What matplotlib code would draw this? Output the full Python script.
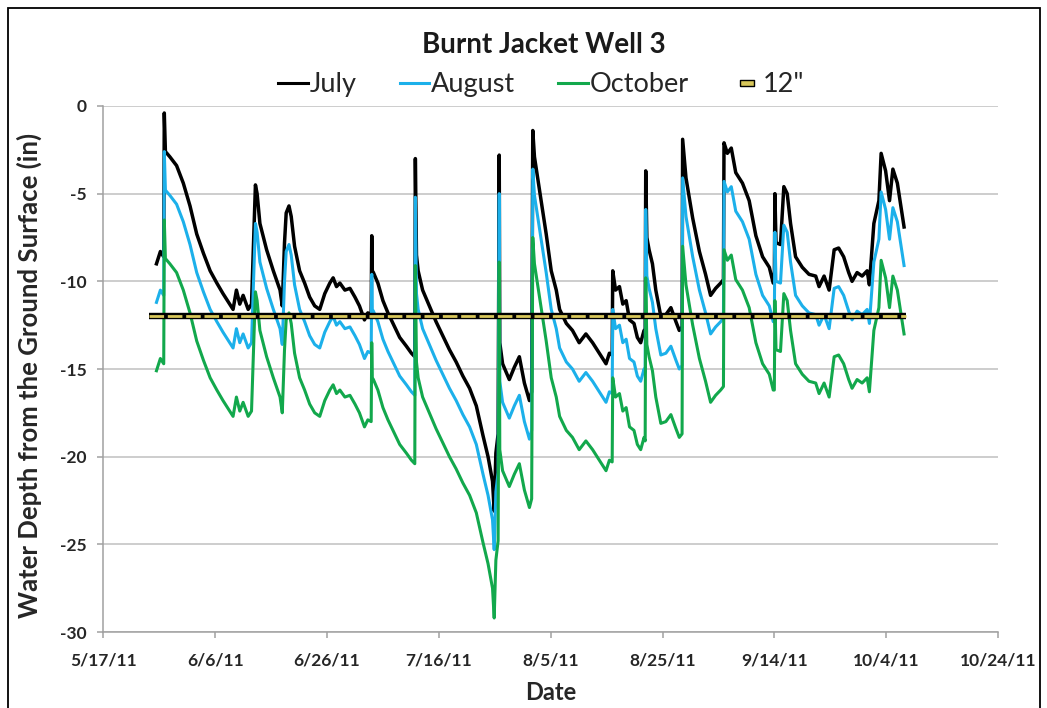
import matplotlib
matplotlib.use("Agg")
import matplotlib.pyplot as plt
from matplotlib.lines import Line2D
from matplotlib.patches import Rectangle

# --- Data (days since 5/17/11, depth in inches) ---
days = [9.5, 10.2, 10.8, 10.9, 11.1, 11.9, 13.1, 14.3, 15.5, 16.7, 17.9, 19.1, 20.3, 21.4, 22.6, 23.2,
        23.8, 24.4, 25.0, 25.9, 26.5, 26.9, 27.2, 27.5, 28.0, 29.2, 30.4, 31.6, 32.0, 32.4, 32.7, 33.2,
        33.6, 34.2, 35.1, 36.0, 36.9, 37.8, 38.7, 39.6, 40.5, 41.1, 41.7, 42.3, 43.2, 44.1, 45.0, 45.8,
        46.7, 47.3, 47.9, 48.0, 48.1, 48.3, 49.1, 50.0, 50.9, 51.8, 53.0, 54.2, 55.1, 55.7, 55.8, 56.0,
        56.3, 57.1, 58.3, 59.5, 60.7, 61.9, 63.1, 64.3, 65.5, 66.7, 67.9, 68.8, 69.6, 69.9, 70.2, 70.6,
        70.8, 70.9, 71.4, 72.6, 73.5, 74.4, 75.3, 76.2, 76.6, 76.8, 77.1, 78.0, 79.2, 80.1, 81.0, 81.6,
        82.8, 83.9, 85.1, 86.3, 87.5, 88.7, 89.9, 90.5, 91.0, 91.1, 91.6, 92.3, 92.9, 93.5, 94.1, 94.9,
        95.5, 96.1, 96.7, 96.9, 97.0, 97.2, 97.6, 98.2, 98.8, 99.7, 100.6, 101.5, 102.4, 103.0, 103.5,
        103.6, 104.2, 105.4, 106.6, 107.7, 108.6, 109.5, 110.4, 110.9, 111.0, 111.6, 112.3, 113.1, 114.3,
        115.5, 116.7, 117.9, 119.1, 119.8, 120.0, 120.1, 120.3, 121.1, 121.7, 122.3, 122.9, 123.8, 125.0,
        126.2, 127.4, 128.0, 128.9, 129.8, 130.7, 131.5, 132.4, 133.3, 133.9, 134.8, 135.7, 136.6, 137.0,
        137.8, 138.7, 139.1, 139.9, 140.6, 141.2, 142.0, 143.2]

july = [-9.0, -8.3, -8.6, -0.4, -2.6, -2.9, -3.4, -4.4, -5.7, -7.3, -8.4, -9.4, -10.1, -10.7, -11.3, -11.6,
        -10.5, -11.3, -10.8, -11.6, -11.3, -7.5, -4.5, -5.0, -6.7, -8.2, -9.4, -10.5, -11.4, -7.8, -6.1, -5.7,
        -6.3, -8.0, -9.4, -10.1, -10.9, -11.4, -11.6, -10.7, -10.1, -9.8, -10.3, -10.1, -10.5, -10.4, -10.9, -11.4,
        -12.2, -11.8, -11.9, -7.4, -9.4, -9.5, -10.1, -11.1, -11.8, -12.4, -13.2, -13.7, -14.1, -14.3, -3.0, -8.5,
        -9.4, -10.5, -11.4, -12.3, -13.1, -13.9, -14.6, -15.4, -16.1, -17.1, -18.8, -20.0, -21.4, -23.1, -19.8, -18.7,
        -2.8, -13.5, -14.7, -15.6, -14.9, -14.3, -15.8, -16.8, -16.3, -1.4, -2.9, -4.8, -7.3, -9.4, -10.5, -11.6,
        -12.4, -12.8, -13.5, -13.0, -13.5, -14.1, -14.7, -14.1, -14.2, -9.4, -10.5, -10.3, -11.3, -11.1, -12.2, -12.4,
        -13.2, -13.5, -12.8, -13.0, -3.7, -7.5, -8.2, -9.0, -10.5, -12.0, -11.9, -11.5, -12.3, -12.8, -12.6,
        -1.9, -4.1, -6.4, -8.3, -9.6, -10.8, -10.4, -10.1, -9.9, -2.1, -2.7, -2.4, -3.8, -4.4,
        -5.4, -7.4, -8.6, -9.2, -10.1, -10.1, -5.0, -7.8, -7.9, -4.6, -5.0, -6.7, -8.6, -9.2,
        -9.6, -9.7, -10.3, -9.7, -10.5, -8.2, -8.1, -8.6, -9.5, -10.0, -9.5, -9.7, -9.4, -10.2,
        -6.7, -5.4, -2.7, -3.7, -5.4, -3.6, -4.4, -6.9]

august = [-11.2, -10.5, -10.8, -2.6, -4.8, -5.1, -5.6, -6.6, -7.9, -9.5, -10.6, -11.6, -12.3, -12.9, -13.5, -13.8,
          -12.7, -13.5, -13.0, -13.8, -13.5, -9.7, -6.7, -7.2, -8.9, -10.4, -11.6, -12.7, -13.6, -10.0, -8.3, -7.9,
          -8.5, -10.2, -11.6, -12.3, -13.1, -13.6, -13.8, -12.9, -12.3, -12.0, -12.5, -12.3, -12.7, -12.6, -13.1, -13.6,
          -14.4, -14.0, -14.1, -9.6, -11.6, -11.7, -12.3, -13.3, -14.0, -14.6, -15.4, -15.9, -16.3, -16.5, -5.2, -10.7,
          -11.6, -12.7, -13.6, -14.5, -15.3, -16.1, -16.8, -17.6, -18.3, -19.3, -21.0, -22.2, -23.6, -25.3, -22.0, -20.9,
          -5.0, -15.7, -16.9, -17.8, -17.1, -16.5, -18.0, -19.0, -18.5, -3.6, -5.1, -7.0, -9.5, -11.6, -12.7, -13.8,
          -14.6, -15.0, -15.7, -15.2, -15.7, -16.3, -16.9, -16.3, -16.4, -11.6, -12.7, -12.5, -13.5, -13.3, -14.4, -14.6,
          -15.4, -15.7, -15.0, -15.2, -5.9, -9.7, -10.4, -11.2, -12.7, -14.2, -14.1, -13.7, -14.5, -15.0, -14.8,
          -4.1, -6.3, -8.6, -10.5, -11.8, -13.0, -12.6, -12.3, -12.1, -4.3, -4.9, -4.6, -6.0, -6.6,
          -7.6, -9.6, -10.8, -11.4, -12.3, -12.3, -7.2, -10.0, -10.1, -6.8, -7.2, -8.9, -10.8, -11.4,
          -11.8, -11.9, -12.5, -11.9, -12.7, -10.4, -10.3, -10.8, -11.7, -12.2, -11.7, -11.9, -11.6, -12.4,
          -8.9, -7.6, -4.9, -5.9, -7.6, -5.8, -6.6, -9.1]

october = [-15.1, -14.4, -14.7, -6.5, -8.7, -9.0, -9.5, -10.5, -11.8, -13.4, -14.5, -15.5, -16.2, -16.8, -17.4, -17.7,
           -16.6, -17.4, -16.9, -17.7, -17.4, -13.6, -10.6, -11.1, -12.8, -14.3, -15.5, -16.6, -17.5, -13.9, -12.2, -11.8,
           -12.4, -14.1, -15.5, -16.2, -17.0, -17.5, -17.7, -16.8, -16.2, -15.9, -16.4, -16.2, -16.6, -16.5, -17.0, -17.5,
           -18.3, -17.9, -18.0, -13.5, -15.5, -15.6, -16.2, -17.2, -17.9, -18.5, -19.3, -19.8, -20.2, -20.4, -9.1, -14.6,
           -15.5, -16.6, -17.5, -18.4, -19.2, -20.0, -20.7, -21.5, -22.2, -23.2, -24.9, -26.1, -27.5, -29.2, -25.9, -24.8,
           -8.9, -19.6, -20.8, -21.7, -21.0, -20.4, -21.9, -22.9, -22.4, -7.5, -9.0, -10.9, -13.4, -15.5, -16.6, -17.7,
           -18.5, -18.9, -19.6, -19.1, -19.6, -20.2, -20.8, -20.2, -20.3, -15.5, -16.6, -16.4, -17.4, -17.2, -18.3, -18.5,
           -19.3, -19.6, -18.9, -19.1, -9.8, -13.6, -14.3, -15.1, -16.6, -18.1, -18.0, -17.6, -18.4, -18.9, -18.7,
           -8.0, -10.2, -12.5, -14.4, -15.7, -16.9, -16.5, -16.2, -16.0, -8.2, -8.8, -8.5, -9.9, -10.5,
           -11.5, -13.5, -14.7, -15.3, -16.2, -16.2, -11.1, -13.9, -14.0, -10.7, -11.1, -12.8, -14.7, -15.3,
           -15.7, -15.8, -16.4, -15.8, -16.6, -14.3, -14.2, -14.7, -15.6, -16.1, -15.6, -15.8, -15.5, -16.3,
           -12.8, -11.5, -8.8, -9.8, -11.5, -9.7, -10.5, -13.0]

# 12" reference level
ref_days = [8.2, 143.5]
ref_depth = [-12, -12]

tick_days = [0, 20, 40, 60, 80, 100, 120, 140, 160]
tick_labels = ['5/17/11', '6/6/11', '6/26/11', '7/16/11', '8/5/11',
               '8/25/11', '9/14/11', '10/4/11', '10/24/11']
y_ticks = [0, -5, -10, -15, -20, -25, -30]

# --- Style ---
plt.rcParams['font.family'] = ['Lato', 'DejaVu Sans']
plt.rcParams['axes.unicode_minus'] = False
plt.rcParams['lines.scale_dashes'] = False

BLUE = '#1cb0ea'
GREEN = '#12a84c'
YELLOW = '#d8c75a'

fig = plt.figure(figsize=(10.47, 7.08), dpi=100)
ax = fig.add_axes([0.0987, 0.1073, 0.8545, 0.743])

ax.plot(days, july, color='black', lw=2.5, zorder=3)
ax.plot(days, august, color=BLUE, lw=2.2, zorder=4)
ax.plot(days, october, color=GREEN, lw=2.2, zorder=5)

# 12" line: black outline with yellow dashes
ax.plot(ref_days, ref_depth, color='black', lw=4.6, solid_capstyle='butt', zorder=6)
ax.plot(ref_days, ref_depth, color=YELLOW, lw=2.0, dashes=(10.5, 2.7),
        dash_capstyle='butt', zorder=7)

ax.set_xlim(0, 160)
ax.set_ylim(-30, 0)
ax.set_xticks(tick_days)
ax.set_xticklabels(tick_labels)
ax.set_yticks(y_ticks)

ax.grid(axis='y', color='#c0c0c0', lw=1.1)
ax.set_axisbelow(True)
for s in ['top', 'right']:
    ax.spines[s].set_visible(False)
for s in ['left', 'bottom']:
    ax.spines[s].set_color('#a0a0a0')
    ax.spines[s].set_linewidth(1.1)
ax.tick_params(axis='both', colors='#a0a0a0', length=4, width=1.1, labelcolor='#262626',
               labelsize=12.5)
ax.tick_params(axis='x', pad=11)
ax.tick_params(axis='y', pad=8)
for lab in ax.get_xticklabels() + ax.get_yticklabels():
    lab.set_fontweight('bold')

ax.set_xlabel('Date', fontsize=17, fontweight='bold', color='#262626')
ax.xaxis.set_label_coords(0.5, -0.093)
ax.set_ylabel('Water Depth from the Ground Surface (in)', fontsize=18.5, fontweight='bold',
              color='#262626')
ax.yaxis.set_label_coords(-0.069, 0.487)

fig.text(0.519, 0.936, 'Burnt Jacket Well 3', ha='center', va='center',
         fontsize=20, fontweight='bold', color='#1a1a1a')

# legend
bar = [(-1, -0.4), (1, -0.4), (1, 0.4), (-1, 0.4), (-1, -0.4)]
handles = [Line2D([], [], color='black', lw=2.2),
           Line2D([], [], color=BLUE, lw=2.2),
           Line2D([], [], color=GREEN, lw=2.2),
           Line2D([], [], ls='none', marker=bar, markersize=10, markerfacecolor=YELLOW,
                  markeredgecolor='black', markeredgewidth=1.0)]
fig.legend(handles, ['July', 'August', 'October', '12"'], loc='center',
           bbox_to_anchor=(0.517, 0.88), ncol=4, frameon=False, fontsize=19.5,
           handlelength=1.1, handletextpad=0.05, columnspacing=1.6, labelcolor='#262626')

# outer frame
fig.patches.append(Rectangle((8 / 1047, -0.05), 1032 / 1047, 1.05 - 8 / 708,
                             transform=fig.transFigure, fill=False, ec='black', lw=1.3))

fig.savefig('out.png', dpi=100)
